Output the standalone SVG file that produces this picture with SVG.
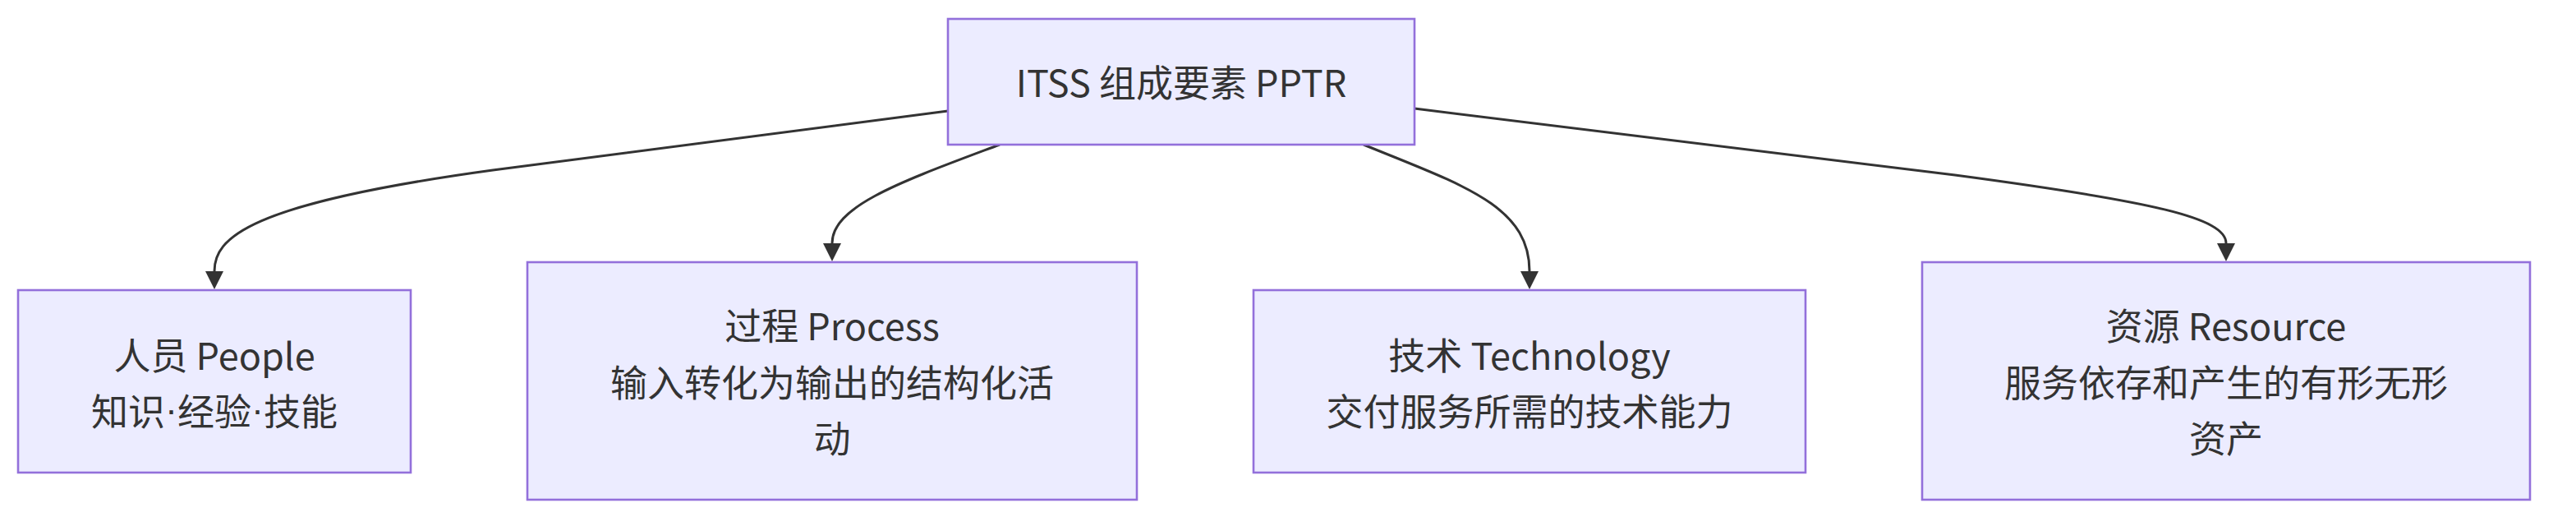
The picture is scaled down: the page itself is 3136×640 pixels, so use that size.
<svg xmlns="http://www.w3.org/2000/svg" width="3136" height="640" viewBox="0 0 3136 640">
  <style>
    .node rect { fill: #ECECFF; stroke: #9370DB; stroke-width: 2.6; }
    .node text { font-family: "Noto Sans CJK SC", "Noto Sans", sans-serif; font-size: 45px; fill: #333333; text-anchor: middle; dominant-baseline: central; }
    .node text .dot { font-family: "Liberation Sans", sans-serif; }
    .edge { fill: none; stroke: #333333; stroke-width: 3; }
  </style>
  <defs>
    <marker id="arrow" viewBox="0 0 10 10" refX="0" refY="5" markerUnits="userSpaceOnUse" markerWidth="22" markerHeight="23" orient="auto">
      <path d="M0,0 L10,5 L0,10 z" fill="#333333"/>
    </marker>
  </defs>
  <rect width="3136" height="640" fill="#FFFFFF"/>
  <g id="connectors">
    <path class="edge" d="M1154,135 L600,207 C300,248 261,290 261,330" marker-end="url(#arrow)"/>
    <path class="edge" d="M1217,176 C1100,220 1013,250 1013,296" marker-end="url(#arrow)"/>
    <path class="edge" d="M1660,176 C1780,225 1862,250 1862,330" marker-end="url(#arrow)"/>
    <path class="edge" d="M1722,132 L2380,213 C2620,245 2710,265 2710,296" marker-end="url(#arrow)"/>
  </g>
  <g id="root" class="node">
    <rect x="1154" y="23" width="568" height="153"/>
    <text x="1438" y="98">ITSS 组成要素 PPTR</text>
  </g>
  <g id="people" class="node">
    <rect x="22" y="353" width="478" height="222"/>
    <text x="261" y="430">人员 People</text>
    <text x="261" y="498">知识<tspan class="dot">·</tspan>经验<tspan class="dot">·</tspan>技能</text>
  </g>
  <g id="process" class="node">
    <rect x="642" y="319" width="742" height="289"/>
    <text x="1013" y="394">过程 Process</text>
    <text x="1013" y="463">输入转化为输出的结构化活</text>
    <text x="1013" y="531">动</text>
  </g>
  <g id="technology" class="node">
    <rect x="1526" y="353" width="672" height="222"/>
    <text x="1862" y="430">技术 Technology</text>
    <text x="1862" y="498">交付服务所需的技术能力</text>
  </g>
  <g id="resource" class="node">
    <rect x="2340" y="319" width="740" height="289"/>
    <text x="2710" y="394">资源 Resource</text>
    <text x="2710" y="463">服务依存和产生的有形无形</text>
    <text x="2710" y="531">资产</text>
  </g>
</svg>
